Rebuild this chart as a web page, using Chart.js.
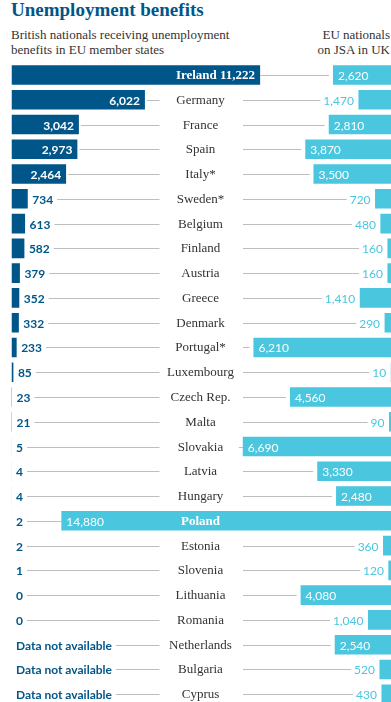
<!DOCTYPE html>
<html>
<head>
<meta charset="utf-8">
<script src="https://cdn.jsdelivr.net/npm/chart.js@4.4.1/dist/chart.umd.min.js"></script>
<style>
  html, body { margin: 0; padding: 0; background: #fff; overflow: hidden; }
  #wrap { position: relative; width: 391px; height: 702px; overflow: hidden; }
  #title { position: absolute; left: 11px; top: 0; font: bold 19px/19px "Liberation Serif", serif; color: #005689; white-space: nowrap; }
  .sub { position: absolute; top: 28px; font: 13px/14.5px "Liberation Serif", serif; color: #333; white-space: nowrap; }
  #subLeft { left: 11px; }
  #subRight { right: 1px; text-align: right; }
  canvas { position: absolute; left: 0; top: 0; }
</style>
</head>
<body>
<div id="wrap">
  <div id="title">Unemployment benefits</div>
  <div class="sub" id="subLeft">British nationals receiving unemployment<br>benefits in EU member states</div>
  <div class="sub" id="subRight">EU nationals<br>on JSA in UK</div>
  <canvas id="chart" width="391" height="710"></canvas>
</div>
<script>
// --- data ---
const countries = ['Ireland', 'Germany', 'France', 'Spain', 'Italy*', 'Sweden*', 'Belgium', 'Finland', 'Austria',
  'Greece', 'Denmark', 'Portugal*', 'Luxembourg', 'Czech Rep.', 'Malta', 'Slovakia', 'Latvia', 'Hungary',
  'Poland', 'Estonia', 'Slovenia', 'Lithuania', 'Romania', 'Netherlands', 'Bulgaria', 'Cyprus'];
// British nationals receiving unemployment benefits in each EU state (null = data not available)
const britsInEu = [11222, 6022, 3042, 2973, 2464, 734, 613, 582, 379, 352, 332, 233, 85, 23, 21, 5, 4, 4, 2, 2, 1, 0, 0, null, null, null];
// EU nationals on JSA in the UK
const euInUk = [2620, 1470, 2810, 3870, 3500, 720, 480, 160, 160, 1410, 290, 6210, 10, 4560, 90, 6690, 3330, 2480, 14880, 360, 120, 4080, 1040, 2540, 520, 430];

const DARK = '#005689';
const LIGHT = '#4bc6df';
const SCALE_MAX = 17130;

const fmt = v => v.toLocaleString('en-GB');

// draws the value labels, country names and the grey leader lines
const labelsPlugin = {
  id: 'rowLabels',
  afterDatasetsDraw(chart) {
    const c = chart.ctx;
    const xl = chart.scales.x, xr = chart.scales.x2, ys = chart.scales.y;
    const midX = 200.5, lineL = 159.5, lineR = 243;
    c.save();
    c.textBaseline = 'middle';
    countries.forEach((name, i) => {
      const y = Math.round(ys.getPixelForValue(i)) + 0.5;
      const lv = britsInEu[i], rv = euInUk[i];
      const lEnd = lv == null ? xl.left : xl.getPixelForValue(lv);
      const rStart = xr.getPixelForValue(rv);

      // right label
      let rLineEnd;
      c.font = '12px Lato, sans-serif';
      if (rv >= 2000) {
        c.fillStyle = '#fff';
        c.textAlign = 'left';
        c.fillText(fmt(rv), rStart + 5, y + 0.5);
        rLineEnd = rStart - 4;
      } else {
        c.fillStyle = LIGHT;
        c.textAlign = 'right';
        c.fillText(fmt(rv), rStart - 4.5, y + 0.5);
        rLineEnd = rStart - 4.5 - c.measureText(fmt(rv)).width - 3;
      }

      // left label
      let lLineStart;
      const bigLeft = lv != null && lEnd > 200;
      if (bigLeft) {
        c.font = 'bold 13px "Liberation Serif", serif';
        c.fillStyle = '#fff';
        c.textAlign = 'right';
        c.fillText(name + ' ' + fmt(lv), lEnd - 5, y + 0.5);
        lLineStart = lEnd;
      } else if (lv != null && lv >= 2000) {
        c.font = 'bold 12px Lato, sans-serif';
        c.fillStyle = '#fff';
        c.textAlign = 'right';
        c.fillText(fmt(lv), lEnd - 5, y + 0.5);
        lLineStart = lEnd + 2;
      } else {
        const txt = lv == null ? 'Data not available' : fmt(lv);
        const x0 = Math.max(lEnd, xl.left) + 4.5;
        c.font = 'bold 12px Lato, sans-serif';
        c.fillStyle = DARK;
        c.textAlign = 'left';
        c.fillText(txt, x0, y + 0.5);
        lLineStart = x0 + c.measureText(txt).width + 4;
      }

      // country name and leader lines
      c.strokeStyle = '#bdbdbd';
      c.lineWidth = 1;
      c.beginPath();
      if (bigLeft) {
        c.moveTo(lLineStart, y); c.lineTo(rLineEnd, y);
      } else if (rStart < 180) {
        c.moveTo(lLineStart, y); c.lineTo(rStart, y);
        c.font = 'bold 13px "Liberation Serif", serif';
        c.fillStyle = '#fff';
        c.textAlign = 'center';
        c.fillText(name, midX, y + 0.5);
      } else {
        c.moveTo(lLineStart, y); c.lineTo(lineL, y);
        c.moveTo(lineR, y); c.lineTo(rLineEnd, y);
        c.font = '13px "Liberation Serif", serif';
        c.fillStyle = '#333';
        c.textAlign = 'center';
        c.fillText(name, midX, y + 0.5);
      }
      c.stroke();
    });
    c.restore();
  }
};

new Chart(document.getElementById('chart'), {
  type: 'bar',
  data: {
    labels: countries,
    datasets: [
      { data: britsInEu, xAxisID: 'x', backgroundColor: DARK, grouped: false, barPercentage: 0.79, categoryPercentage: 1, borderWidth: 0 },
      { data: euInUk, xAxisID: 'x2', backgroundColor: LIGHT, grouped: false, barPercentage: 0.79, categoryPercentage: 1, borderWidth: 0 }
    ]
  },
  options: {
    indexAxis: 'y',
    responsive: false,
    devicePixelRatio: 1,
    animation: false,
    layout: { padding: { left: 11.5, right: 0, top: 62.6, bottom: 3.4 } },
    scales: {
      y: { display: false, grid: { display: false } },
      x: { display: false, min: 0, max: SCALE_MAX },
      x2: { display: false, min: 0, max: SCALE_MAX, reverse: true }
    },
    plugins: { legend: { display: false }, tooltip: { enabled: false } }
  },
  plugins: [labelsPlugin]
});
</script>
</body>
</html>
